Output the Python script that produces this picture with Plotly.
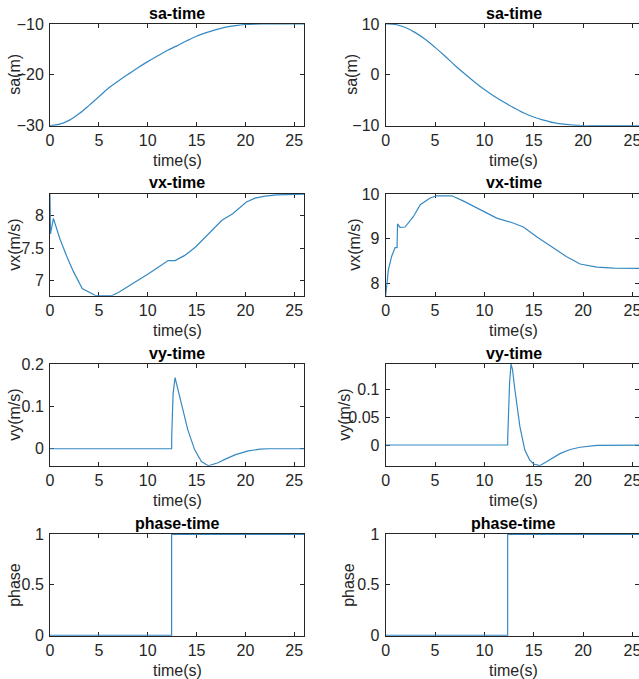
import plotly.graph_objects as go

# ---------------- data ----------------
time_sa = [0, 1, 2, 3, 4, 5, 6, 7, 8, 9, 10, 11, 12, 13, 14, 15, 16, 17, 18, 19, 20, 21, 22, 23, 24, 25, 26]
sa_left = [-30, -29.7, -28.9, -27.6, -26.0, -24.3, -22.6, -21.2, -19.9, -18.6, -17.4, -16.3, -15.2,
           -14.3, -13.3, -12.4, -11.7, -11.1, -10.6, -10.3, -10.1, -10.02, -10.0, -10.0, -10.0, -10.0, -10.0]
sa_right = [10, 9.9, 9.3, 8.3, 7.0, 5.4, 3.7, 1.9, 0.2, -1.4, -2.9, -4.2, -5.4,
            -6.5, -7.5, -8.3, -8.9, -9.4, -9.7, -9.9, -10.0, -10.0, -10.0, -10.0, -10.0, -10.0, -10.0]

time_vx_left = [0, 0.05, 0.35, 1.0, 1.7, 2.4, 3.3, 4.1, 4.7, 5.5, 6.3, 7.0, 8.0, 9.0, 10.0, 11.0,
                12.1, 12.8, 13.8, 14.9, 16.3, 17.6, 18.7, 19.5, 20.1, 21.0, 22.0, 23.2, 24.5, 26.0]
vx_left = [8.33, 7.72, 7.96, 7.65, 7.38, 7.14, 6.88, 6.81, 6.77, 6.77, 6.77, 6.82, 6.91, 7.00, 7.10, 7.20,
           7.31, 7.31, 7.39, 7.52, 7.73, 7.93, 8.03, 8.14, 8.21, 8.27, 8.30, 8.32, 8.33, 8.333]

time_vx_right = [0, 0.1, 0.27, 0.6, 0.95, 1.15, 1.2, 1.45, 1.96, 2.8, 3.5, 4.5, 5.2, 6.0, 6.7, 7.9,
                 9.56, 11.25, 12.9, 13.95, 15.3, 17.0, 18.3, 19.7, 21.4, 23.1, 26.0]
vx_right = [7.72, 8.0, 8.3, 8.6, 8.8, 8.8, 9.33, 9.25, 9.26, 9.49, 9.76, 9.91, 9.96, 9.96, 9.96, 9.84,
            9.65, 9.46, 9.35, 9.26, 9.04, 8.79, 8.6, 8.43, 8.36, 8.34, 8.33]

time_vy_left = [0, 12.45, 12.46, 12.6, 12.8, 13.1, 13.45, 14.1, 14.8, 15.5, 16.2, 17.2, 18.0, 19.0,
                20.3, 21.5, 22.4, 24, 26]
vy_left = [0, 0, 0.03, 0.13, 0.168, 0.14, 0.1, 0.045, -0.002, -0.03, -0.04, -0.033, -0.024, -0.014,
           -0.005, -0.001, 0, 0, 0]

time_vy_right = [0, 12.36, 12.37, 12.55, 12.7, 12.85, 13.1, 13.6, 14.1, 14.6, 15.0, 15.6, 16.3, 17.0,
                 17.7, 18.7, 19.7, 21.4, 23, 26]
vy_right = [0, 0, 0.015, 0.11, 0.145, 0.135, 0.098, 0.033, -0.009, -0.027, -0.034, -0.037, -0.03, -0.022,
            -0.015, -0.008, -0.004, -0.0006, 0, 0]

time_phase_left = [0, 12.45, 12.45, 26]
phase_left = [0, 0, 1, 1]
time_phase_right = [0, 12.36, 12.36, 26]
phase_right = [0, 0, 1, 1]

titles = ["sa-time", "vx-time", "vy-time", "phase-time"]
ylabels = ["sa(m)", "vx(m/s)", "vy(m/s)", "phase"]
xlabel = "time(s)"
xticks = [0, 5, 10, 15, 20, 25]
yticks_left = [[-30, -20, -10], [7, 7.5, 8], [0, 0.1, 0.2], [0, 0.5, 1]]
yticks_right = [[-10, 0, 10], [8, 9, 10], [0, 0.05, 0.1], [0, 0.5, 1]]
yrange_left = [[-30, -10], [6.77, 8.334], [-0.04, 0.2], [-0.004, 1.004]]
yrange_right = [[-10, 10], [7.72, 10.0], [-0.037, 0.145], [-0.004, 1.004]]

series_left = [(time_sa, sa_left), (time_vx_left, vx_left), (time_vy_left, vy_left),
               (time_phase_left, phase_left)]
series_right = [(time_sa, sa_right), (time_vx_right, vx_right), (time_vy_right, vy_right),
                (time_phase_right, phase_right)]
row_shapes = ["spline", "linear", "linear", "linear"]

# ---------------- layout geometry (pixels) ----------------
W, H = 639, 679
row_px = [(24, 125.7), (194, 295.7), (364, 465.7), (534, 635.7)]
col_px = [(50, 304), (385.7, 639)]
xrange_cols = [[0, 26], [0, 25.67]]
ylabel_x = [[15, 15, 15, 15], [352, 355, 345, 349]]

FONT = "Liberation Sans, Arial, Helvetica, sans-serif"
TXT = "#262626"
LINE = "#3589c3"

fig = go.Figure()
annotations = []
layout_axes = {}
idx = 0
for r in range(4):
    top, bot = row_px[r]
    for c in range(2):
        idx += 1
        xs, ys = (series_left if c == 0 else series_right)[r]
        xa = "x" if idx == 1 else f"x{idx}"
        ya = "y" if idx == 1 else f"y{idx}"
        fig.add_trace(go.Scatter(x=xs, y=ys, mode="lines", xaxis=xa, yaxis=ya,
                                 line=dict(color=LINE, width=1.2, shape=row_shapes[r]),
                                 showlegend=False, hoverinfo="skip"))
        left, right = col_px[c]
        common = dict(showline=True, linecolor=TXT, linewidth=1, mirror="ticks",
                      ticks="inside", ticklen=4, tickcolor=TXT, tickwidth=1,
                      showgrid=False, zeroline=False, automargin=False, layer="below traces",
                      ticklabeloverflow="allow",
                      tickfont=dict(family=FONT, size=16, color=TXT))
        layout_axes["xaxis" if idx == 1 else f"xaxis{idx}"] = dict(
            domain=[left / W, right / W], anchor=ya, range=xrange_cols[c],
            tickvals=xticks, **common)
        layout_axes["yaxis" if idx == 1 else f"yaxis{idx}"] = dict(
            domain=[1 - bot / H, 1 - top / H], anchor=xa,
            range=(yrange_left if c == 0 else yrange_right)[r],
            tickvals=(yticks_left if c == 0 else yticks_right)[r], ticklabelstandoff=2, **common)
        cx = (left + (642 if c == 1 else right)) / 2
        annotations.append(dict(text=f"<b>{titles[r]}</b>", x=cx / W, y=1 - (top - 11) / H,
                                xref="paper", yref="paper", showarrow=False,
                                font=dict(family=FONT, size=16, color="#000000"),
                                xanchor="center", yanchor="middle"))
        annotations.append(dict(text=xlabel, x=cx / W, y=1 - (bot + 34.5) / H,
                                xref="paper", yref="paper", showarrow=False,
                                font=dict(family=FONT, size=16, color=TXT),
                                xanchor="center", yanchor="middle"))
        annotations.append(dict(text=ylabels[r], x=ylabel_x[c][r] / W, y=1 - (top + bot) / 2 / H,
                                xref="paper", yref="paper", showarrow=False, textangle=-90,
                                font=dict(family=FONT, size=16, color=TXT),
                                xanchor="center", yanchor="middle"))

fig.update_layout(template="none", width=W, height=H, margin=dict(l=0, r=0, t=0, b=0, autoexpand=False),
                  paper_bgcolor="white", plot_bgcolor="white",
                  annotations=annotations, **layout_axes)

fig.write_html("out.html", config={"displayModeBar": False, "staticPlot": True},
               post_script="document.body.style.margin='0';document.body.style.overflow='hidden';")
